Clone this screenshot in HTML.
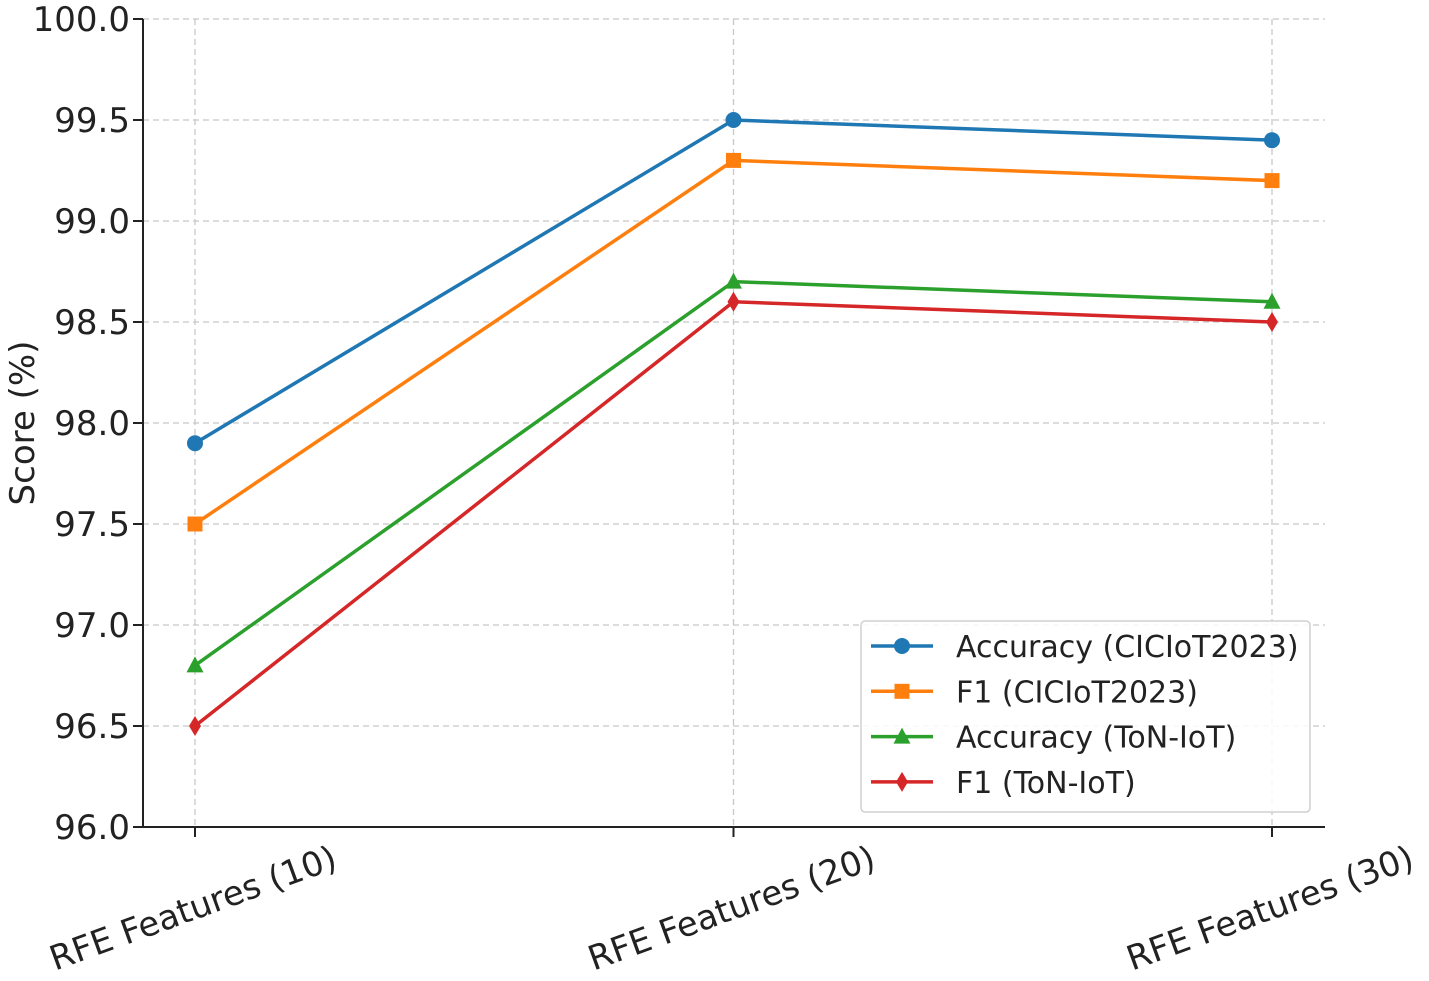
<!DOCTYPE html>
<html><head><meta charset="utf-8"><style>
html,body{margin:0;padding:0;background:#fff;}
svg{display:block;font-family:"DejaVu Sans","Liberation Sans",sans-serif;}
</style></head><body>
<svg id="chart" width="1429" height="981" viewBox="0 0 1429 981">
<g id="grid"></g>
<g id="axes"></g>
<g id="series"></g>
<g id="legend"></g>
</svg>
<script>
const categories = ["RFE Features (10)", "RFE Features (20)", "RFE Features (30)"];
const accCIC = [97.9, 99.5, 99.4];
const f1CIC = [97.5, 99.3, 99.2];
const accTon = [96.8, 98.7, 98.6];
const f1Ton = [96.5, 98.6, 98.5];
const yTicks = [96.0, 96.5, 97.0, 97.5, 98.0, 98.5, 99.0, 99.5, 100.0];
const seriesNames = ["Accuracy (CICIoT2023)", "F1 (CICIoT2023)", "Accuracy (ToN-IoT)", "F1 (ToN-IoT)"];

const NS = "http://www.w3.org/2000/svg";
const L = 143, R = 1325, T = 19, B = 827;
const yMin = 96, yMax = 100;
const x0 = 195, x1 = 1272;
function xs(i){ return x0 + i * (x1 - x0) / (categories.length - 1); }
function ys(v){ return B - (v - yMin) / (yMax - yMin) * (B - T); }
function mk(tag, attrs, parent){ const e = document.createElementNS(NS, tag); for (const k in attrs) e.setAttribute(k, attrs[k]); parent.appendChild(e); return e; }

const grid = document.getElementById('grid'), axes = document.getElementById('axes'), ser = document.getElementById('series'), leg = document.getElementById('legend');

yTicks.forEach(v => {
  const y = ys(v);
  const g = mk('line', {x1: L, x2: R, y1: y, y2: y, stroke: '#c8c8c8', 'stroke-width': 1.3, 'stroke-dasharray': '6,4'}, grid);
  
  
  const t = mk('line', {x1: L - 10, x2: L, y1: y, y2: y, stroke: '#222', 'stroke-width': 2}, axes);
  
  
  const tx = mk('text', {x: L - 13, y: y + 12, 'text-anchor': 'end', 'font-size': 34, fill: '#222'}, axes);
  tx.textContent = v.toFixed(1);
  
  
});
categories.forEach((c, i) => {
  const x = xs(i);
  const g = mk('line', {x1: x, x2: x, y1: T, y2: B, stroke: '#c8c8c8', 'stroke-width': 1.3, 'stroke-dasharray': '6,4'}, grid);
  
  
  const t = mk('line', {x1: x, x2: x, y1: B, y2: B + 10, stroke: '#222', 'stroke-width': 2}, axes);
  
  
  const tx = mk('text', {x: 0, y: 0, 'text-anchor': 'middle', 'font-size': 34, fill: '#222', transform: `translate(${x + 2},${919}) rotate(-20)`}, axes);
  tx.textContent = c;
  
  
});
const yl = mk('line', {x1: L, x2: L, y1: T, y2: B, stroke: '#222', 'stroke-width': 2}, axes);


const xl = mk('line', {x1: L, x2: R, y1: B, y2: B, stroke: '#222', 'stroke-width': 2}, axes);


const yt = mk('text', {x: 0, y: 0, 'text-anchor': 'middle', 'font-size': 34, fill: '#222', transform: 'translate(34,423) rotate(-90)'}, axes);
yt.textContent = 'Score (%)';



const colors = ['#1f77b4', '#ff7f0e', '#2ca02c', '#d62728'];
const shapes = ['circle', 'square', 'triangle', 'diamond'];
const data = [accCIC, f1CIC, accTon, f1Ton];
function marker(shape, x, y, color, parent){
  let e;
  if (shape === 'circle') e = mk('circle', {cx: x, cy: y, r: 8, fill: color}, parent);
  else if (shape === 'square') e = mk('rect', {x: x - 7.5, y: y - 7.5, width: 15, height: 15, fill: color}, parent);
  else if (shape === 'triangle') e = mk('polygon', {points: `${x},${y - 9} ${x + 8.5},${y + 7} ${x - 8.5},${y + 7}`, fill: color}, parent);
  else e = mk('polygon', {points: `${x},${y - 10} ${x + 6},${y} ${x},${y + 10} ${x - 6},${y}`, fill: color}, parent);
  return e;
}
data.forEach((vals, s) => {
  const pts = vals.map((v, i) => xs(i) + ',' + ys(v)).join(' ');
  const pl = mk('polyline', {points: pts, fill: 'none', stroke: colors[s], 'stroke-width': 3.5}, ser);
  
  
  vals.forEach((v, i) => {
    const m = marker(shapes[s], xs(i), ys(v), colors[s], ser);
    
    
  });
});

const box = mk('rect', {x: 861, y: 621, width: 449, height: 191, rx: 4, fill: 'rgba(255,255,255,0.85)', stroke: '#d0d0d0', 'stroke-width': 1.5}, leg);


seriesNames.forEach((n, s) => {
  const y = 646 + s * 45.3;
  const ln = mk('line', {x1: 871, x2: 933, y1: y, y2: y, stroke: colors[s], 'stroke-width': 3.5}, leg);
  
  
  const m = marker(shapes[s], 902, y, colors[s], leg);
  
  
  const t = mk('text', {x: 956, y: y + 11, 'font-size': 30, fill: '#222'}, leg);
  t.textContent = n;
  
  
});
</script>
</body></html>
